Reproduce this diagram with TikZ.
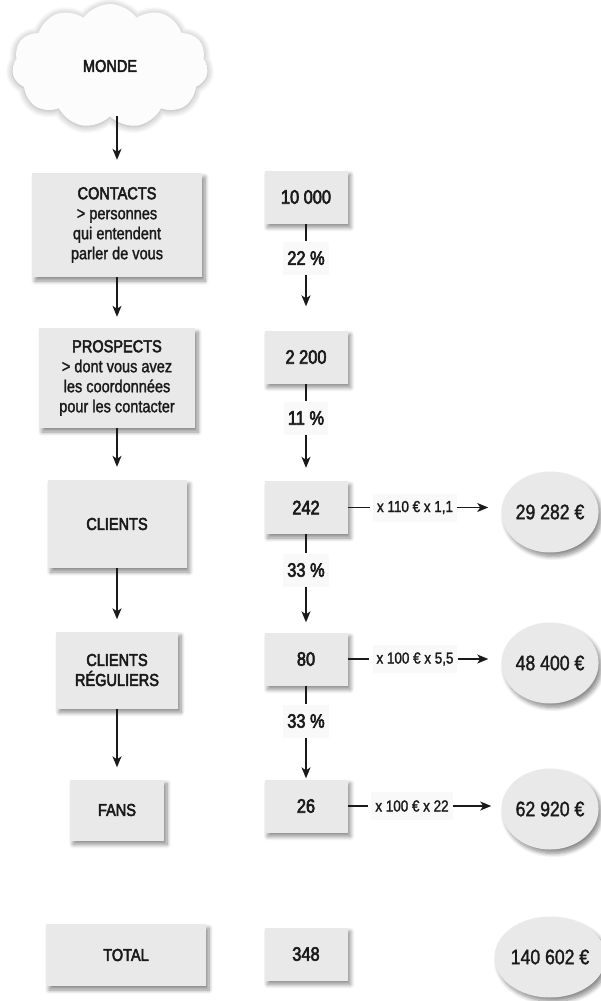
\documentclass[tikz,border=0pt]{standalone}
\usepackage{fontspec}
\setmainfont{Liberation Sans}[FakeStretch=0.84]
\newfontfamily\medf{Liberation Sans}[FakeStretch=0.84, FakeBold=3]
\newfontfamily\regf{Liberation Sans}[FakeStretch=0.84, FakeBold=1.5]
\usetikzlibrary{shapes.symbols,shapes.geometric,arrows.meta,shadows.blur}
\definecolor{boxgray}{HTML}{E9E9E9}
\definecolor{labbg}{HTML}{F9F9F9}
\definecolor{ink}{HTML}{1A1A1A}
\newcommand{\ttl}[1]{{\medf\fontsize{17.3}{20}\selectfont #1}}
\begin{document}
\begin{tikzpicture}[x=1pt,y=-1pt,
  shad/.style={blur shadow={shadow xshift=3pt, shadow yshift=-4pt, shadow blur radius=4pt, shadow blur steps=8, shadow opacity=45}},
  box/.style={shad, fill=boxgray, inner sep=0pt, align=center, text=ink, font=\regf\fontsize{17.3}{20}\selectfont},
  num/.style={shad, fill=boxgray, inner sep=0pt, minimum width=83pt, minimum height=53pt, text=ink, font=\medf\fontsize{19.5}{20}\selectfont},
  pct/.style={fill=labbg, inner xsep=4pt, inner ysep=0pt, minimum height=33pt, text=ink, font=\medf\fontsize{19.5}{20}\selectfont},
  mult/.style={fill=labbg, inner xsep=4pt, inner ysep=0pt, minimum height=28pt, text=ink, font=\regf\fontsize{16}{16}\selectfont},
  val/.style={shad, ellipse, fill=boxgray, inner sep=0pt, minimum width=95pt, minimum height=81pt, text=ink, font=\regf\fontsize{21}{20}\selectfont},
  ln/.style={line width=1.3pt, draw=ink},
  arr/.style={ln, -{Stealth[length=11pt,width=9pt,inset=3pt]}}
]
\useasboundingbox (0,0) rectangle (601,1001);

% cloud
\node[cloud, cloud puffs=11, cloud puff arc=110, aspect=1.55, minimum width=196pt, minimum height=124pt, inner sep=0pt,
  fill=white!99!black, text=ink, font=\medf\fontsize{17.3}{20}\selectfont,
  blur shadow={shadow xshift=0pt, shadow yshift=-1pt, shadow blur radius=7pt, shadow blur steps=10, shadow opacity=35}]
  (monde) at (110,66) {MONDE};

% left column
\node[box, minimum width=170pt, minimum height=104pt] (contacts) at (117,225)
  {\ttl{CONTACTS}\\{>} personnes\\qui entendent\\parler de vous};
\node[box, minimum width=156pt, minimum height=100pt] (prospects) at (117,378)
  {\ttl{PROSPECTS}\\{>} dont vous avez\\les coordonnées\\pour les contacter};
\node[box, minimum width=139pt, minimum height=88pt] (clients) at (117,524) {\ttl{CLIENTS}};
\node[box, minimum width=122pt, minimum height=77pt] (reguliers) at (117,670) {\ttl{CLIENTS}\\\ttl{RÉGULIERS}};
\node[box, minimum width=94pt, minimum height=61pt] (fans) at (117,810) {\ttl{FANS}};
\node[box, minimum width=160pt, minimum height=62pt] (total) at (126,955) {\ttl{TOTAL}};

% middle column
\node[num] (n1) at (306,197) {10 000};
\node[num] (n2) at (306,357) {2 200};
\node[num] (n3) at (306,507.5) {242};
\node[num] (n4) at (306,659) {80};
\node[num] (n5) at (306,806) {26};
\node[num] (n6) at (306,954) {348};

% percentages
\node[pct] (p1) at (306,258) {22 \%};
\node[pct] (p2) at (306,418) {11 \%};
\node[pct] (p3) at (306,570) {33 \%};
\node[pct] (p4) at (306,721) {33 \%};

% multipliers
\node[mult] (h1) at (415,507.5) {x 110 € x 1,1};
\node[mult] (h2) at (415,659) {x 100 € x 5,5};
\node[mult] (h3) at (412,806) {x 100 € x 22};

% values
\node[val] (c1) at (550,512) {29 282 €};
\node[val] (c2) at (550,663) {48 400 €};
\node[val] (c3) at (550,809) {62 920 €};
\node[val] (c4) at (550,957) {140 602 €};

% left arrows
\draw[arr, shorten >=13pt] (contacts.north |- monde.south) -- (contacts.north);
\draw[arr, shorten >=11pt] (contacts) -- (prospects);
\draw[arr, shorten >=13pt] (prospects) -- (clients);
\draw[arr, shorten >=12pt] (clients) -- (reguliers);
\draw[arr, shorten >=12pt] (reguliers) -- (fans);

% middle arrows
\draw[ln] (n1) -- (p1);
\draw[arr, shorten >=24pt] (p1) -- (n2);
\draw[ln] (n2) -- (p2);
\draw[arr, shorten >=13pt] (p2) -- (n3);
\draw[ln] (n3) -- (p3);
\draw[arr, shorten >=10pt] (p3) -- (n4);
\draw[ln] (n4) -- (p4);
\draw[arr, shorten >=1pt] (p4) -- (n5);

% horizontal arrows
\draw[ln, shorten >=3pt] (n3) -- (h1);
\draw[arr, shorten >=13pt] (h1) -- (h1 -| c1.west);
\draw[ln, shorten >=3pt] (n4) -- (h2);
\draw[arr, shorten >=13pt] (h2) -- (h2 -| c2.west);
\draw[ln, shorten >=3pt] (n5) -- (h3);
\draw[arr, shorten >=10pt] (h3) -- (h3 -| c3.west);
\end{tikzpicture}
\end{document}
